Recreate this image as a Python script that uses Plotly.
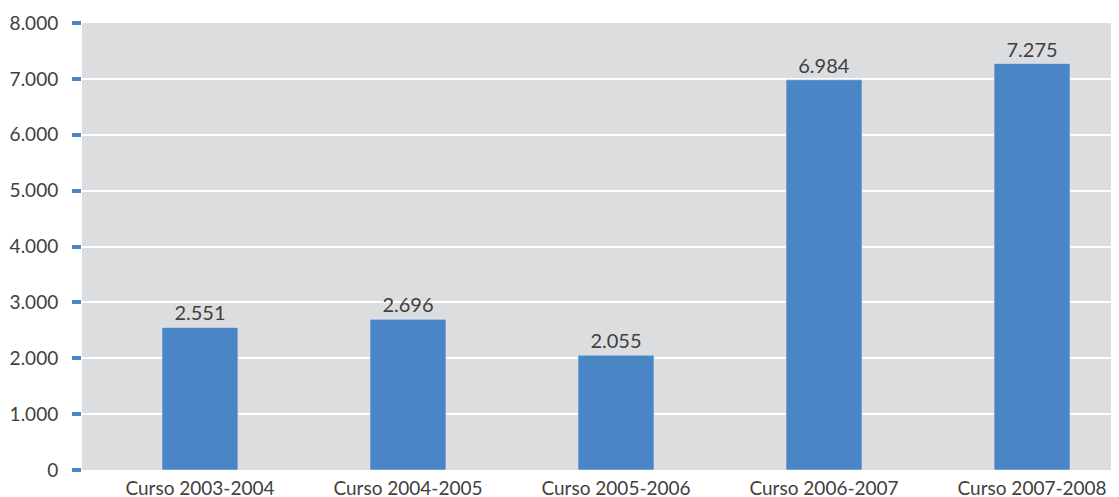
import plotly.graph_objects as go

cursos = ["Curso 2003-2004", "Curso 2004-2005", "Curso 2005-2006",
          "Curso 2006-2007", "Curso 2007-2008"]
valores = [2551, 2696, 2055, 6984, 7275]
etiquetas = ["2.551", "2.696", "2.055", "6.984", "7.275"]

tick_vals = [0, 1000, 2000, 3000, 4000, 5000, 6000, 7000, 8000]
tick_text = ["0", "1.000", "2.000", "3.000", "4.000", "5.000", "6.000", "7.000", "8.000"]

fuente = "Lato, Noto Sans, sans-serif"

fig = go.Figure(go.Bar(
    x=cursos, y=valores,
    marker_color="#4A86C5",
    text=etiquetas, textposition="outside",
    textfont=dict(size=20, color="#404040", family=fuente),
    cliponaxis=False,
))

# la página tiene 8px de margen en el body, se compensa aquí
fig.update_layout(
    width=1111, height=489,
    margin=dict(l=74, r=0, t=15, b=27),
    paper_bgcolor="white", plot_bgcolor="#DCDDDF",
    bargap=0.635,
    showlegend=False,
    font=dict(family=fuente, color="#404040"),
)
fig.update_xaxes(
    range=[-0.567, 4.418], showgrid=False, ticks="", automargin=False,
    tickfont=dict(size=19, color="#404040"), ticklabelstandoff=5,
)
fig.update_yaxes(
    range=[0, 8000], tickvals=tick_vals, ticktext=tick_text,
    gridcolor="white", gridwidth=2, zeroline=False, automargin=False,
    ticks="outside", ticklen=9, tickwidth=4, tickcolor="#4A86C5",
    ticklabelstandoff=10,
    tickfont=dict(size=19, color="#404040"),
)

fig.write_html("out.html")
